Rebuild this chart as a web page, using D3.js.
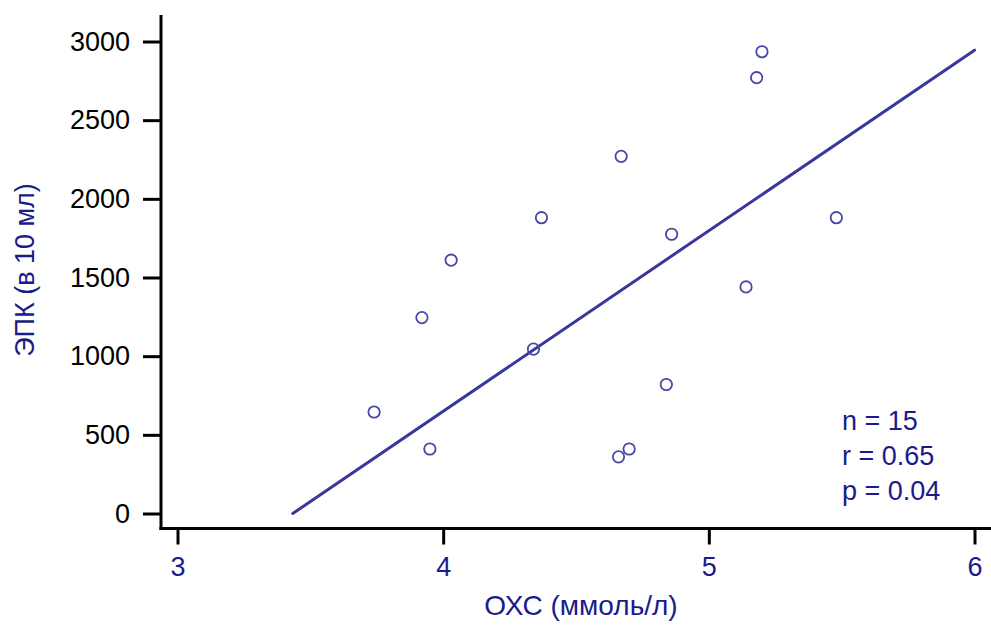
<!DOCTYPE html>
<html>
<head>
<meta charset="utf-8">
<script src="https://cdn.jsdelivr.net/npm/d3@7"></script>
<style>
  html, body { margin: 0; padding: 0; background: #ffffff; }
  svg { display: block; font-family: "Liberation Sans", Arial, sans-serif; }
</style>
</head>
<body>
<svg id="chart" width="991" height="626"></svg>
<script>
// Data
const ohc = [3.74, 3.92, 3.95, 4.03, 4.34, 4.37, 4.66, 4.67, 4.70, 4.84, 4.86, 5.14, 5.18, 5.20, 5.48];
const epc = [645, 1245, 410, 1610, 1045, 1880, 360, 2270, 410, 820, 1775, 1440, 2770, 2935, 1880];
const fitX = [3.434, 6.0];
const fitY = [0, 2945];
const xTicks = [3, 4, 5, 6];
const yTicks = [0, 500, 1000, 1500, 2000, 2500, 3000];
const statsLines = ["n = 15", "r = 0.65", "p = 0.04"];
const xTitle = "ОХС (ммоль/л)";
const yTitle = "ЭПК (в 10 мл)";

const navy = "#1b1b8c";
const lineColor = "#38389c";
const pointColor = "#4848a8";

const svg = d3.select("#chart");
const x = d3.scaleLinear().domain([3, 6]).range([177.5, 974.5]);
const y = d3.scaleLinear().domain([0, 3000]).range([513.5, 41.5]);

const axisX = 161, axisY = 528.5;

// Axis lines
svg.append("line").attr("x1", axisX).attr("x2", axisX).attr("y1", 15).attr("y2", axisY + 1.5)
  .attr("stroke", "#000").attr("stroke-width", 3);
svg.append("line").attr("x1", axisX - 1.5).attr("x2", 991).attr("y1", axisY).attr("y2", axisY)
  .attr("stroke", "#000").attr("stroke-width", 3);

// Y axis
const gy = svg.append("g").attr("transform", `translate(${axisX},0)`)
  .call(d3.axisLeft(y).tickValues(yTicks).tickSize(18).tickPadding(13).tickFormat(d3.format("d")));
gy.select(".domain").remove();
gy.selectAll(".tick line").attr("stroke", "#000").attr("stroke-width", 3);
gy.selectAll(".tick text").attr("fill", "#000").style("font-size", "27px")
  .style("font-family", "'Liberation Sans', Arial, sans-serif");

// X axis
const gx = svg.append("g").attr("transform", `translate(0,${axisY})`)
  .call(d3.axisBottom(x).tickValues(xTicks).tickSize(16).tickPadding(12).tickFormat(d3.format("d")));
gx.select(".domain").remove();
gx.selectAll(".tick line").attr("stroke", "#000").attr("stroke-width", 3);
gx.selectAll(".tick text").attr("fill", navy).style("font-size", "27px")
  .style("font-family", "'Liberation Sans', Arial, sans-serif");

// Regression line
svg.append("line")
  .attr("x1", x(fitX[0])).attr("y1", y(fitY[0]))
  .attr("x2", x(fitX[1])).attr("y2", y(fitY[1]))
  .attr("stroke", lineColor).attr("stroke-width", 3).attr("stroke-linecap", "round");

// Points
svg.append("g").selectAll("circle").data(ohc.map((v, i) => [v, epc[i]])).join("circle")
  .attr("cx", d => x(d[0])).attr("cy", d => y(d[1])).attr("r", 5.7)
  .attr("fill", "none").attr("stroke", pointColor).attr("stroke-width", 1.8);

// Stats
svg.append("g").selectAll("text").data(statsLines).join("text")
  .attr("x", 842).attr("y", (d, i) => 430 + i * 35)
  .attr("fill", navy).style("font-size", "27px").text(d => d);

// Titles
svg.append("text").attr("x", 581).attr("y", 615).attr("text-anchor", "middle")
  .attr("fill", navy).style("font-size", "28px").text(xTitle);
svg.append("text").attr("transform", "translate(34,270) rotate(-90)").attr("text-anchor", "middle")
  .attr("fill", navy).style("font-size", "27px").text(yTitle);
</script>
</body>
</html>
